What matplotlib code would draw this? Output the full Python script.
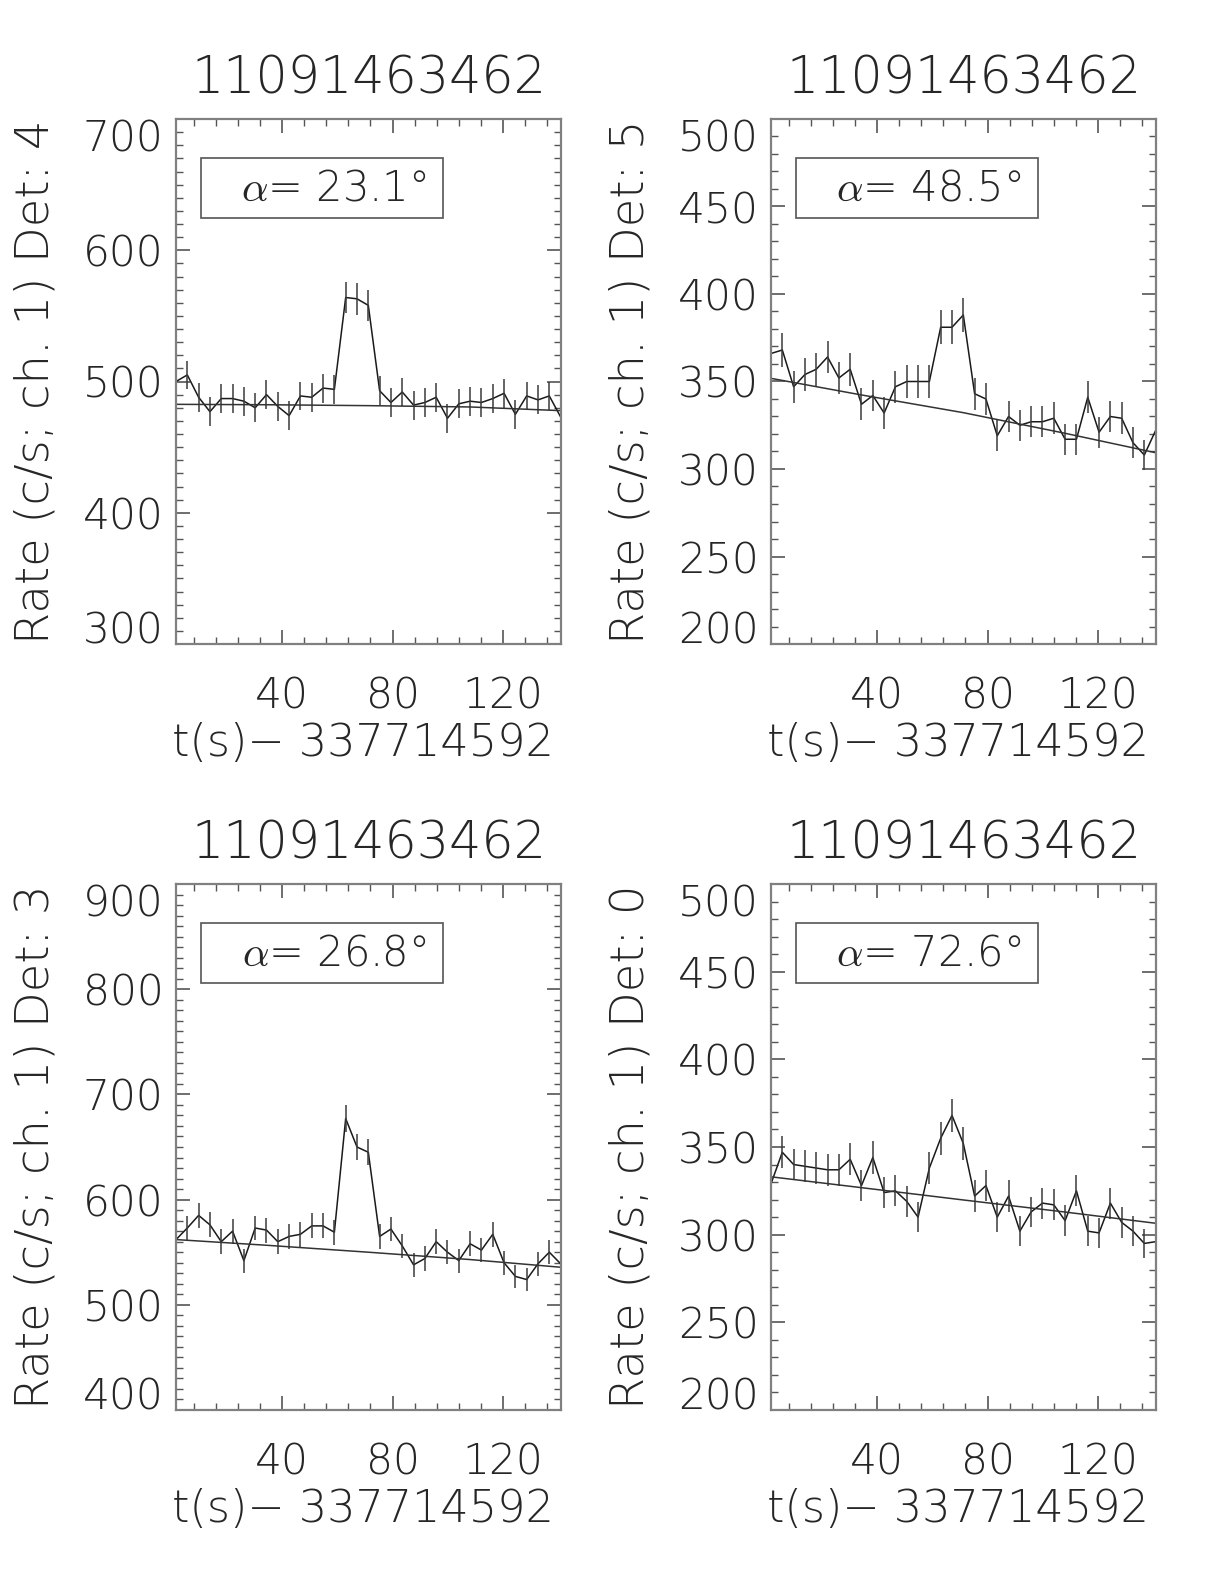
import numpy as np
import matplotlib
matplotlib.use("Agg")
import matplotlib.pyplot as plt
import matplotlib.font_manager as fm
from matplotlib.ticker import MultipleLocator
from matplotlib.patches import Rectangle

# ---------------- data ----------------
t0 = 1.6
dt = 4.096
n_bins = 35
time = t0 + dt * np.arange(n_bins)

title_text = "11091463462"
xlabel_text = "t(s)\u2212 337714592"

det_labels = ["Rate (c/s; ch. 1) Det: 4", "Rate (c/s; ch. 1) Det: 5",
              "Rate (c/s; ch. 1) Det: 3", "Rate (c/s; ch. 1) Det: 0"]
alpha_vals = ["23.1", "48.5", "26.8", "72.6"]

rate_det4 = [500, 505, 488, 477, 487, 487, 485, 480, 490, 481, 474, 489, 488, 495, 494,
             564, 563, 558, 493, 484, 492, 482, 484, 488, 472, 483, 485, 484, 487, 491,
             475, 489, 486, 489, 473]
err_det4 = [11, 11, 11, 11, 11, 11, 11, 11, 11, 11, 11, 11, 11, 11, 11,
            12, 12, 12, 11, 11, 11, 11, 11, 11, 11, 11, 11, 11, 11, 11,
            11, 11, 11, 11, 11]
fit_det4_t = [1.6, 34.4, 71.2, 108.1, 140.9]
fit_det4 = [482.6, 482.3, 481.6, 480.6, 477.8]

rate_det5 = [366, 368, 347, 354, 357, 364, 352, 357, 337, 342, 332, 347, 350, 350, 350,
             381, 381, 388, 343, 340, 319, 330, 325, 327, 327, 329, 317, 317, 341, 321,
             330, 329, 315, 308, 322]
err_det5 = [9.5, 9.5, 9.2, 9.3, 9.3, 9.4, 9.3, 9.3, 9.1, 9.1, 9.0, 9.2, 9.2, 9.2, 9.2,
            9.6, 9.6, 9.7, 9.2, 9.1, 8.8, 9.0, 8.9, 8.9, 8.9, 9.0, 8.8, 8.8, 9.1, 8.9,
            9.0, 9.0, 8.8, 8.7, 8.9]
fit_det5_t = [1.6, 34.4, 71.2, 108.1, 140.9]
fit_det5 = [351.8, 342.3, 332.2, 320.4, 309.3]

rate_det3 = [562, 573, 585, 576, 560, 570, 542, 573, 571, 560, 565, 567, 575, 575, 569,
             677, 650, 645, 565, 572, 556, 538, 544, 560, 550, 542, 558, 552, 567, 540,
             527, 524, 539, 550, 539]
err_det3 = [11.7, 11.8, 12.0, 11.9, 11.7, 11.8, 11.5, 11.8, 11.8, 11.7, 11.7, 11.8, 11.8, 11.8, 11.8,
            12.9, 12.6, 12.5, 11.7, 11.8, 11.7, 11.5, 11.5, 11.7, 11.6, 11.5, 11.7, 11.6, 11.8, 11.5,
            11.3, 11.3, 11.5, 11.6, 11.5]
fit_det3_t = [1.6, 34.4, 71.2, 108.1, 140.9]
fit_det3 = [562.0, 556.6, 550.0, 543.0, 535.7]

rate_det0 = [329, 347, 340, 339, 338, 337, 337, 343, 328, 344, 324, 325, 319, 310, 338,
             355, 368, 352, 322, 328, 310, 322, 302, 313, 318, 317, 308, 325, 302, 301,
             318, 307, 302, 295, 296]
err_det0 = [9.0, 9.2, 9.1, 9.1, 9.1, 9.1, 9.1, 9.2, 9.0, 9.2, 8.9, 8.9, 8.8, 8.7, 9.1,
            9.3, 9.5, 9.3, 8.9, 8.9, 8.7, 8.9, 8.6, 8.7, 8.8, 8.8, 8.7, 8.9, 8.6, 8.6,
            8.8, 8.7, 8.6, 8.5, 8.5]
fit_det0_t = [1.6, 34.4, 71.2, 108.1, 140.9]
fit_det0 = [333.0, 326.8, 319.8, 312.9, 306.5]

rates = [rate_det4, rate_det5, rate_det3, rate_det0]
errs = [err_det4, err_det5, err_det3, err_det0]
fit_ts = [fit_det4_t, fit_det5_t, fit_det3_t, fit_det0_t]
fits = [fit_det4, fit_det5, fit_det3, fit_det0]

y_limits = [(300, 700), (200, 500), (400, 900), (200, 500)]
y_ticks = [[300, 400, 500, 600, 700],
           [200, 250, 300, 350, 400, 450, 500],
           [400, 500, 600, 700, 800, 900],
           [200, 250, 300, 350, 400, 450, 500]]
x_limits = (1.6, 141.0)
x_ticks = [40, 80, 120]

# ---------------- font choice: thinnest available ----------------
def _w(v):
    if isinstance(v, (int, float)):
        return int(v)
    return fm.weight_dict.get(str(v).lower(), 400)

FAMILY, FW = 'DejaVu Sans', 'normal'
for fam, maxw in [('DejaVu Sans', 250), ('Roboto', 300), ('Lato', 300),
                  ('Open Sans', 300), ('Noto Sans', 300)]:
    cands = [f for f in fm.fontManager.ttflist
             if f.name == fam and f.style == 'normal' and _w(f.weight) <= maxw]
    if cands:
        FAMILY = fam
        FW = min(_w(f.weight) for f in cands)
        break

plt.rcParams['font.family'] = [FAMILY, 'DejaVu Sans']
plt.rcParams['mathtext.fontset'] = 'cm'
TXT = '#262626'

W, H = 1224, 1584
fig = plt.figure(figsize=(W / 100, H / 100), dpi=100)

# axes boxes in pixels: (left, top, right, bottom)
boxes = [(176, 119, 561, 644), (771, 119, 1156, 644),
         (176, 884, 561, 1410), (771, 884, 1156, 1410)]

for k in range(4):
    l, t, r, b = boxes[k]
    ax = fig.add_axes([l / W, 1 - b / H, (r - l) / W, (b - t) / H])
    ax.set_xlim(*x_limits)
    ax.set_ylim(*y_limits[k])

    ax.plot(time, rates[k], color='#1a1a1a', lw=1.1)
    ax.errorbar(time, rates[k], yerr=errs[k], fmt='none', ecolor='#3a3a3a',
                elinewidth=1.1, capsize=0)
    ax.plot(fit_ts[k], fits[k], color='#333333', lw=1.1)

    ax.set_xticks(x_ticks)
    ax.set_yticks(y_ticks[k])
    ax.xaxis.set_minor_locator(MultipleLocator(8))
    ax.yaxis.set_minor_locator(MultipleLocator(10))
    ax.tick_params(which='both', direction='in', top=True, right=True,
                   colors='#555555', labelcolor=TXT)
    ax.tick_params(which='major', length=10, width=1.2)
    ax.tick_params(which='minor', length=5, width=1.0)
    ax.tick_params(axis='x', which='major', pad=23, labelsize=30.5)
    ax.tick_params(axis='y', which='major', pad=9, labelsize=30.5)
    yt = ax.yaxis.get_major_ticks()
    for tk in ax.xaxis.get_major_ticks() + yt:
        tk.label1.set_fontweight(FW)
    yt[0].label1.set_va('baseline')
    yt[-1].label1.set_va('top')
    for sp in ax.spines.values():
        sp.set_color('#808080')
        sp.set_linewidth(1.6)

    ax.text(0.5, 1.076, title_text, transform=ax.transAxes, ha='center',
            va='center', fontsize=36.5, color=TXT, fontweight=FW)
    ax.text(0.485, -0.19, xlabel_text, transform=ax.transAxes, ha='center',
            va='center', fontsize=32, color=TXT, fontweight=FW)
    ax.text(-0.365, 0.5, det_labels[k], transform=ax.transAxes, ha='center',
            va='center', rotation=90, fontsize=33.5, color=TXT, fontweight=FW)

    ax.add_patch(Rectangle((0.064, 0.812), 0.63, 0.114, transform=ax.transAxes,
                           fill=False, edgecolor='#555555', lw=1.2))
    ax.text(0.41, 0.869, r'$\alpha$= ' + alpha_vals[k] + '\u00b0',
            transform=ax.transAxes, ha='center', va='center', fontsize=30,
            color=TXT, fontweight=FW)

fig.savefig('out.png', dpi=100, facecolor='white')
